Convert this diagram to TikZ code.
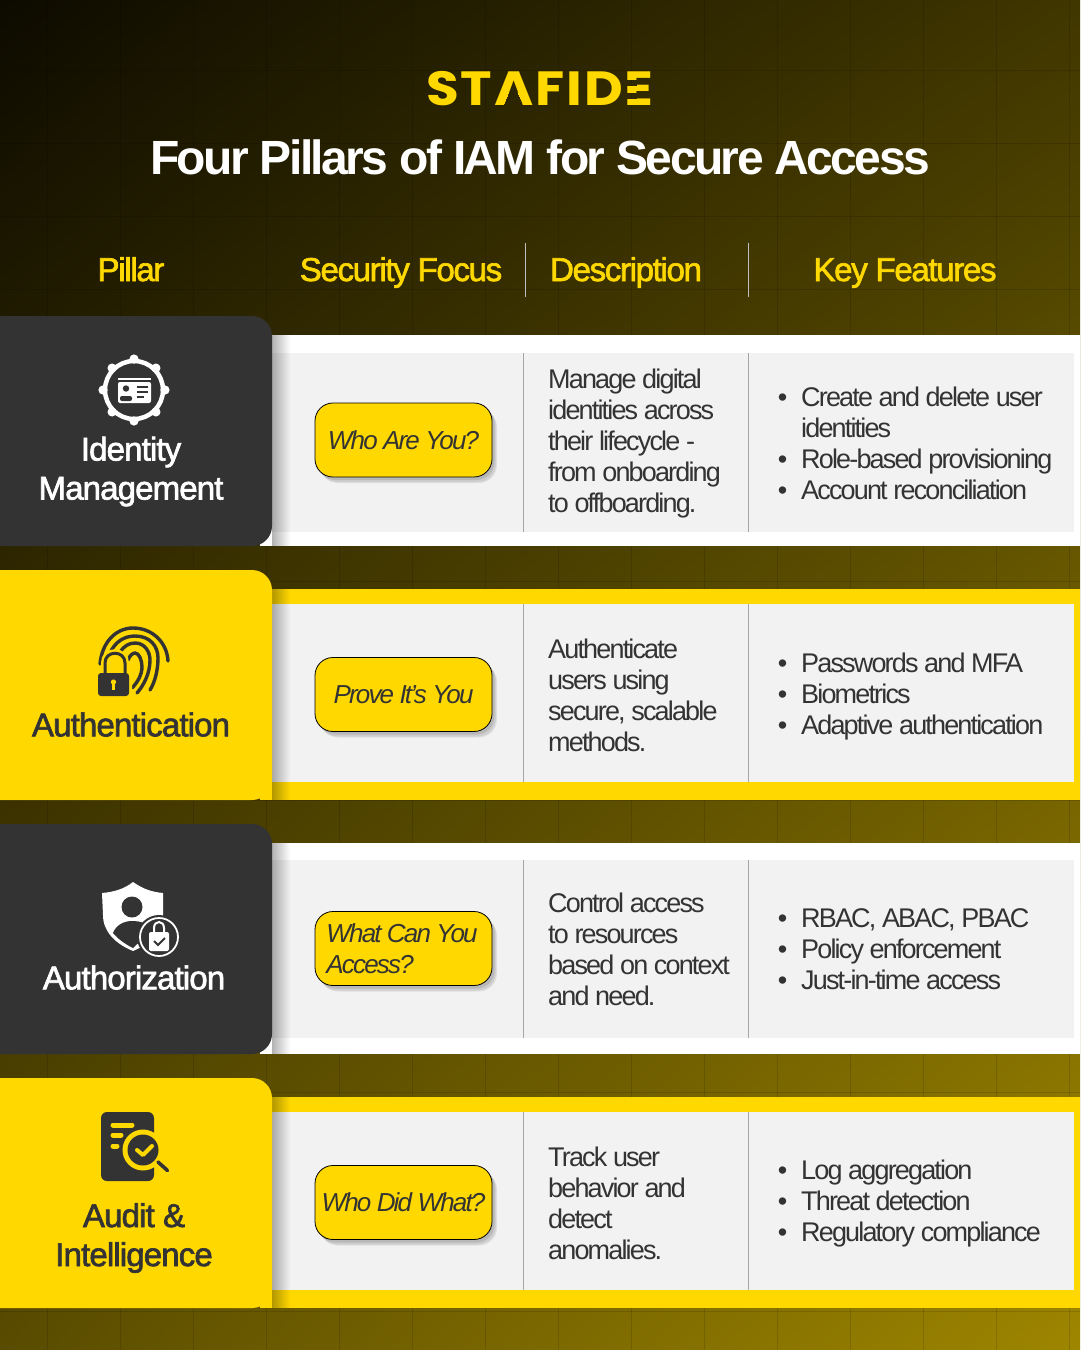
\documentclass[tikz,border=0pt]{standalone}
\usepackage{fontspec}
\usetikzlibrary{shadows,fadings,shadings}
\setmainfont{Liberation Sans}
\newfontfamily\titlefont[LetterSpace=-5.3]{Liberation Sans}
\newfontfamily\headfont[LetterSpace=-4,FakeBold=2]{Liberation Sans}
\newfontfamily\pillarfont[LetterSpace=-2.6,FakeBold=2]{Liberation Sans}
\newfontfamily\bodyfont[LetterSpace=-6.8]{Liberation Sans}
\newfontfamily\pillfont[LetterSpace=-7]{Liberation Sans}
\newfontfamily\logofont[LetterSpace=4,FakeStretch=1.11]{Poppins}
\definecolor{stafyellow}{HTML}{FFD800}
\definecolor{stafdark}{HTML}{333334}
\definecolor{cardgray}{HTML}{F2F2F3}
\definecolor{bodyink}{HTML}{333333}
\tikzset{
  headlabel/.style={text=stafyellow,font=\headfont\fontsize{33}{39}\selectfont,inner sep=0pt,anchor=base},
  pillarlabel/.style={font=\pillarfont\fontsize{33}{39}\selectfont,align=center,inner sep=0pt},
  bodytext/.style={text=bodyink,font=\bodyfont\fontsize{27}{31}\selectfont,align=left,anchor=west,inner sep=0pt},
  pillbox/.style={draw=black,line width=0.8pt,fill=stafyellow,rounded corners=18pt,minimum width=177pt,minimum height=74pt,
    inner sep=0pt,text=bodyink,font=\pillfont\itshape\fontsize{26}{31}\selectfont,align=left,
    drop shadow={shadow xshift=5pt,shadow yshift=-6pt,opacity=.07,fill=black},
    drop shadow={shadow xshift=4pt,shadow yshift=-5pt,opacity=.08,fill=black},
    drop shadow={shadow xshift=2.5pt,shadow yshift=-3pt,opacity=.1,fill=black}},
  gridline/.style={black,opacity=.13,line width=1pt}
}
\newcommand{\bul}{\llap{\textbullet\hspace{14pt}}}
\begin{document}
\begin{tikzpicture}[x=1pt,y=-1pt]
\useasboundingbox (0,0) rectangle (1080,1350);
\shade[upper left=black!95!stafyellow,upper right=stafyellow!25!black,lower left=stafyellow!35!black,lower right=stafyellow!62!black] (0,0) rectangle (1080,1350);
\foreach \gx in {47,120,...,1070}
  \draw[gridline] (\gx,0) -- (\gx,1350);
\foreach \gy in {70,143,...,1350}
  \draw[gridline] (0,\gy) -- (1080,\gy);

\begin{scope}[even odd rule]
  \clip (400,50) rectangle (680,120)
    (513,82) -- (502.5,107) -- (523.5,107) -- cycle
    (626,79) rectangle (637,85.5)
    (626,92) rectangle (637,99);
  \node[text=stafyellow,font=\logofont\bfseries\fontsize{48}{48}\selectfont,inner sep=0pt] (logo) at (540,89) {STAFIDE};
\end{scope}
\node[text=white,font=\titlefont\bfseries\fontsize{48}{56}\selectfont,inner sep=0pt] (title) at (540,157) {Four Pillars of IAM for Secure Access};

\node[headlabel] (headpillar) at (131,281) {Pillar};
\node[headlabel] (headfocus) at (401,281) {Security Focus};
\node[headlabel] (headdesc) at (626,281) {Description};
\node[headlabel] (headfeat) at (905,281) {Key Features};
\draw[white!75!black,line width=0.8pt] (525,243) -- (525,297) (748,243) -- (748,297);

\foreach \cardtop/\bandtop/\innertop/\innerbot/\bandcolor/\cardcolor in
  {316/335/353/532/white/stafdark,570/589/604/782/stafyellow/stafyellow,824/843/860/1038/white/stafdark,1078/1097/1112/1290/stafyellow/stafyellow} {
  \fill[\bandcolor] (260,\bandtop) rectangle (1080,\cardtop+230);
  \fill[cardgray] (260,\innertop) rectangle (1074,\innerbot);
  \draw[white!65!black,line width=0.8pt] (523,\innertop) -- (523,\innerbot) (748,\innertop) -- (748,\innerbot);
  \fill[black,opacity=.3,path fading=east] (272,\bandtop) rectangle (290,\cardtop+230);
  \fill[\cardcolor,rounded corners=20pt] (-30,\cardtop) rectangle (272,\cardtop+230);
}

\node[pillarlabel,text=white] (identity) at (131,471.5) {Identity\\Management};
\node[pillarlabel,text=stafdark] (authentication) at (131,724.5) {Authentication};
\node[pillarlabel,text=white] (authorization) at (134,977.5) {Authorization};
\node[pillarlabel,text=stafdark] (audit) at (134,1238) {Audit \&\\Intelligence};

\node[pillbox] (whopill) at (403.5,440) {Who Are You?};
\node[pillbox] (provepill) at (403.5,694.5) {Prove It’s You};
\node[pillbox] (whatpill) at (403.5,948.5) {\hspace{-3pt}What Can You\\\hspace{-3pt}Access?};
\node[pillbox] (didpill) at (403.5,1202.5) {Who Did What?};

\node[bodytext] (identitydesc) at (548,444) {Manage digital\\identities across\\their lifecycle -\\from onboarding\\to offboarding.};
\node[bodytext] (authdesc) at (548,695) {Authenticate\\users using\\secure, scalable\\methods.};
\node[bodytext] (authzdesc) at (548,949) {Control access\\to resources\\based on context\\and need.};
\node[bodytext] (auditdesc) at (548,1203) {Track user\\behavior and\\detect\\anomalies.};

\node[bodytext] (identityfeat) at (801,443) {\bul Create and delete user\\identities\\\bul Role-based provisioning\\\bul Account reconciliation};
\node[bodytext] (authfeat) at (801,697) {\bul Passwords and MFA\\\bul Biometrics\\\bul Adaptive authentication};
\node[bodytext] (authzfeat) at (801,949) {\bul RBAC, ABAC, PBAC\\\bul Policy enforcement\\\bul Just-in-time access};
\node[bodytext] (auditfeat) at (801,1204) {\bul Log aggregation\\\bul Threat detection\\\bul Regulatory compliance};

% gear with id card
\draw[white,line width=4.5pt] (134,390) circle[radius=29];
\foreach \a in {0,45,...,315}
  \fill[white] (134,390) ++(\a:31) circle[radius=4.6];
\fill[white] (118,378) rectangle (151,379.5);
\fill[white,rounded corners=2pt] (118,382) rectangle (151,403);
\fill[stafdark] (126,388.5) circle[radius=3.2];
\fill[stafdark,rounded corners=2pt] (120,401) -- (120,396) -- (132,396) -- (132,401) -- cycle;
\draw[stafdark,line width=1.6pt] (137,387) -- (148,387) (137,392) -- (148,392) (137,397) -- (144,397);

% fingerprint with lock
\draw[stafdark,line width=3.4pt,line cap=round]
  (100,664) .. controls (102,642) and (116,628) .. (133,628) .. controls (152,628) and (167,642) .. (168,661)
  (110,653) .. controls (115,642) and (124,636) .. (135,636) .. controls (150,636) and (158,646) .. (158,658) .. controls (158,670) and (155,682) .. (150,690)
  (120,652) .. controls (124,646) and (129,643) .. (135,643) .. controls (145,643) and (150,652) .. (150,660) .. controls (150,673) and (144,685) .. (137,693)
  (128,660) .. controls (130,655) and (133,653) .. (135,653) .. controls (139,653) and (142,660) .. (142,667) .. controls (142,675) and (137,683) .. (132,688);
\fill[stafyellow,rounded corners=5pt] (95,670) rectangle (132,699);
\draw[stafyellow,line width=8pt] (105,673) -- (105,663) .. controls (105,650) and (125,650) .. (125,663) -- (125,673);
\draw[stafdark,line width=3pt] (105,673) -- (105,663) .. controls (105,650) and (125,650) .. (125,663) -- (125,673);
\fill[stafdark,rounded corners=3pt] (98,673) rectangle (129,696);
\fill[stafyellow] (113.5,682) circle[radius=2.6];
\fill[stafyellow] (112.3,683) rectangle (114.7,690);

% shield with person and padlock
\fill[white] (133,882) .. controls (143,889) and (152,892) .. (163,893) -- (163,915) .. controls (163,932) and (150,944) .. (133,951)
  .. controls (116,944) and (103,932) .. (103,915) -- (102,893) .. controls (114,892) and (124,889) .. (133,882) -- cycle;
\fill[stafdark] (132,907) circle[radius=10.5];
\fill[stafdark] (113,933) .. controls (116,925) and (124,921) .. (132,921) .. controls (140,921) and (148,923) .. (152,930) -- (133,948) .. controls (125,944) and (118,939) .. (113,933) -- cycle;
\fill[stafdark] (159,937) circle[radius=22];
\draw[white,line width=1.8pt] (159,937) circle[radius=19];
\draw[white,line width=2pt] (154,933) -- (154,928) .. controls (154,920) and (164,920) .. (164,928) -- (164,933);
\fill[white,rounded corners=2pt] (149,932) rectangle (169,951);
\draw[stafdark,line width=2pt] (154,941) -- (158,945) -- (165,938);

% document with magnifier
\fill[stafdark,rounded corners=6pt] (101,1112) rectangle (154,1181);
\draw[stafyellow,line width=5pt,line cap=round] (113,1125) -- (132,1125) (113,1135) -- (121,1135) (113,1146) -- (117,1146);
\fill[stafyellow] (143,1150) circle[radius=20.5];
\fill[stafdark] (143,1150) circle[radius=15.5];
\draw[stafdark,line width=3.6pt,line cap=round] (158,1162) -- (167.5,1170.5);
\draw[stafyellow,line width=4pt,line cap=round,line join=round] (137,1150) -- (143,1155) -- (152,1146);
\end{tikzpicture}
\end{document}
